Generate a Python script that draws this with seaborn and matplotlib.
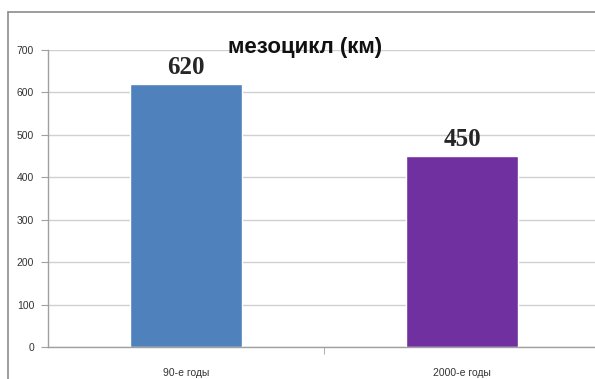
import matplotlib
matplotlib.use("Agg")
import matplotlib.pyplot as plt
import seaborn as sns
import pandas as pd
from matplotlib.lines import Line2D

# data
categories = ["90-е годы", "2000-е годы"]
values = [620, 450]
bar_colors = ["#4F81BD", "#7030A0"]
title = "мезоцикл (км)"

df = pd.DataFrame({"period": categories, "km": values})

sns.set_style("white")
plt.rcParams["font.family"] = ["Liberation Sans", "DejaVu Sans"]

W, H = 595, 379
fig = plt.figure(figsize=(W / 100, H / 100), dpi=100)
ax = fig.add_axes([48 / W, 1 - 347 / H, 552 / W, (347 - 50) / H])

sns.barplot(data=df, x="period", y="km", hue="period", palette=bar_colors,
            width=0.405, legend=False, ax=ax, saturation=1)

ax.set_ylim(0, 700)
ax.set_xlim(-0.5, 1.5)
ax.set_yticks(range(0, 701, 100))
ax.yaxis.grid(True, color="#D0D0D0", linewidth=1)
ax.set_axisbelow(True)
ax.set_xlabel("")
ax.set_ylabel("")

for side in ["top", "right"]:
    ax.spines[side].set_visible(False)
for side in ["left", "bottom"]:
    ax.spines[side].set_color("#A0A0A0")
    ax.spines[side].set_linewidth(1)

ax.tick_params(axis="y", length=5, color="#A0A0A0", labelsize=7.5,
               labelcolor="#333333", pad=5, direction="out", left=True)
ax.tick_params(axis="x", length=0, labelsize=7.5, labelcolor="#333333", pad=15)
# category separator tick at the middle
ax.set_xticks([0.5], minor=True)
ax.tick_params(axis="x", which="minor", length=5, color="#A0A0A0", bottom=True)

for i, v in enumerate(values):
    ax.text(i, v + 12, str(v), ha="center", va="bottom",
            fontsize=18, fontweight="bold", family="Liberation Serif")

fig.text(305 / W, 1 - 47 / H, title, ha="center", va="center",
         fontsize=16, fontweight="bold", color="#111111")

# chart border (only top and left edges fall inside the image)
fig.add_artist(Line2D([8 / W, 1.0], [1 - 12 / H, 1 - 12 / H],
                      transform=fig.transFigure, color="#8C8C8C", linewidth=1.2))
fig.add_artist(Line2D([8 / W, 8 / W], [0, 1 - 12 / H],
                      transform=fig.transFigure, color="#8C8C8C", linewidth=1.2))

fig.savefig("out.png", dpi=100)
